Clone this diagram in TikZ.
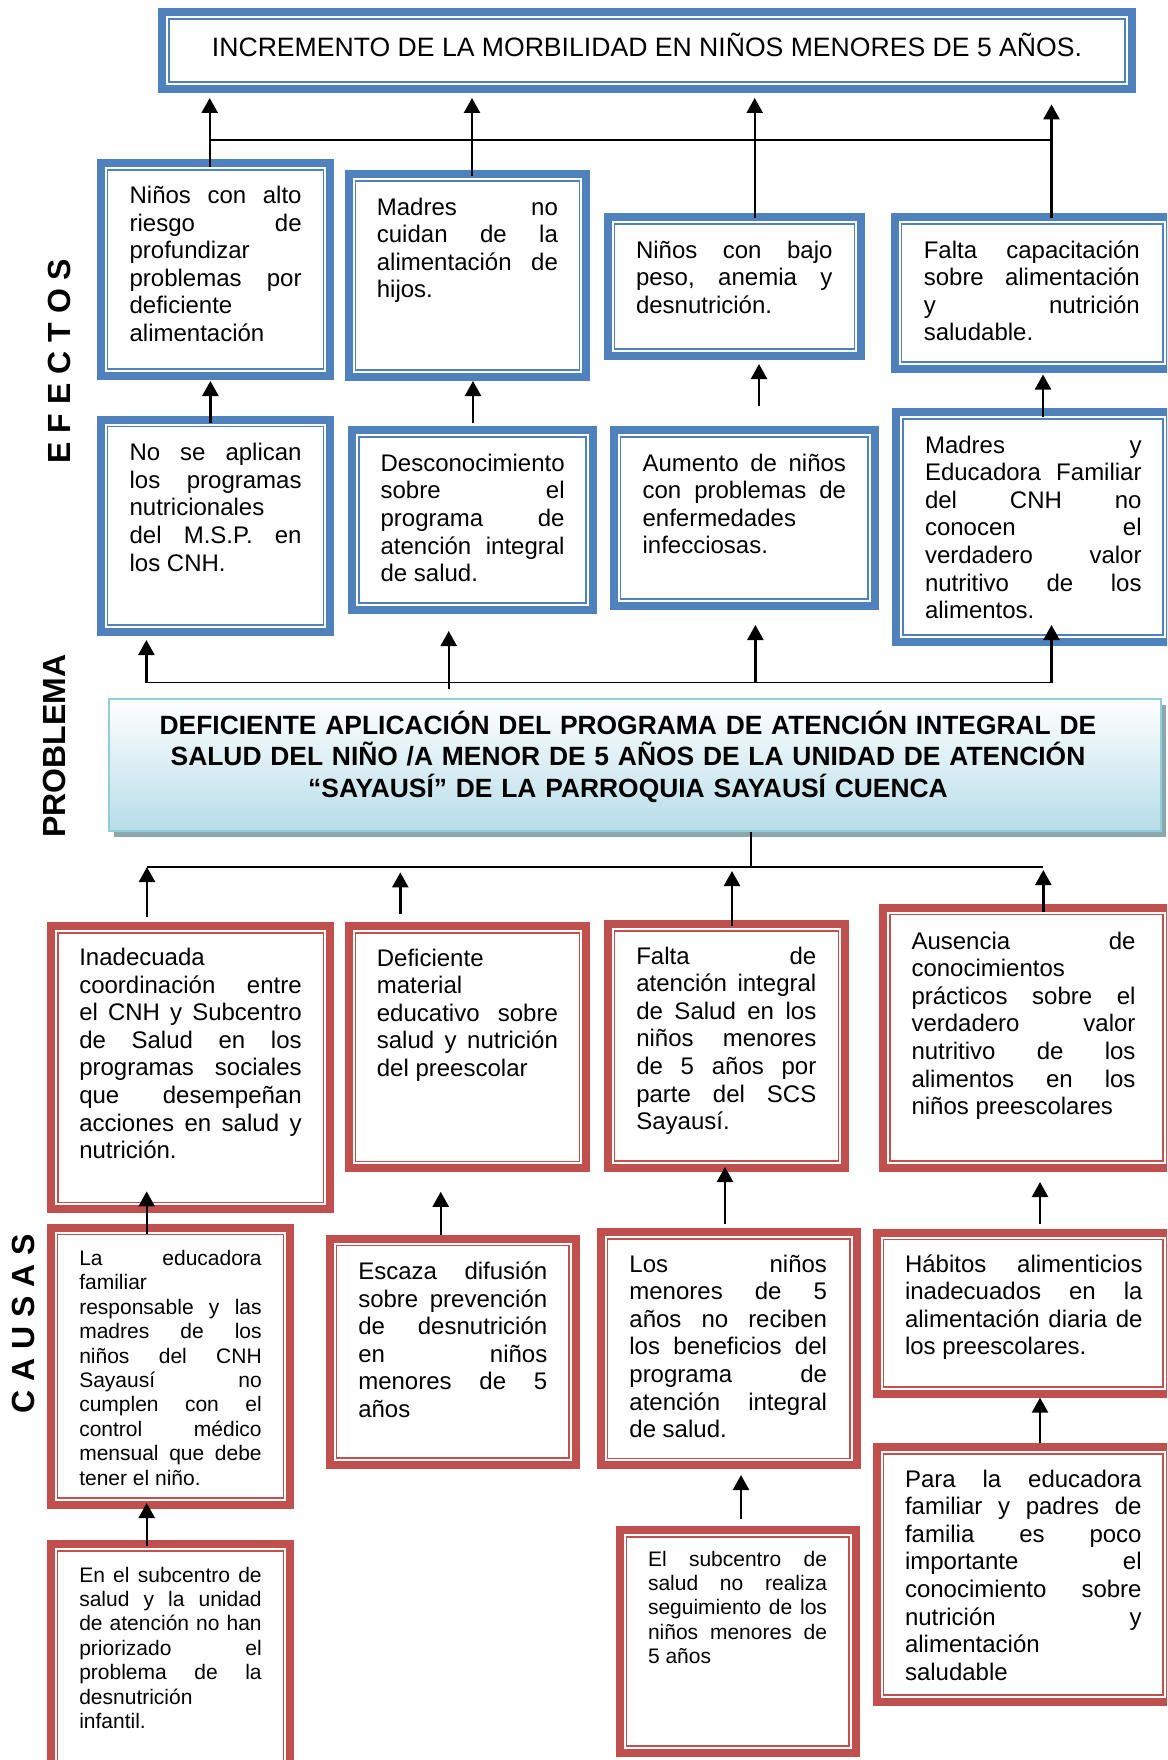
\documentclass[tikz,border=0pt]{standalone}
\usepackage{fontspec}
\setmainfont{Liberation Sans}
\usetikzlibrary{arrows.meta,shadows}
\definecolor{azul}{RGB}{79,129,189}
\definecolor{rojo}{RGB}{192,80,77}
\definecolor{celeste}{RGB}{183,221,232}
\definecolor{bordeceleste}{RGB}{146,205,220}
\definecolor{sombra}{RGB}{139,168,175}
\hyphenpenalty=10000 \exhyphenpenalty=10000
\tolerance=10000 \hbadness=10000 \frenchspacing
\tikzset{
  marco/.style={draw=#1, line width=4pt, anchor=north west, inner sep=0pt,
    path picture={\draw[#1, line width=.8pt]
      ([xshift=3.4pt,yshift=-3.4pt]path picture bounding box.north west) rectangle
      ([xshift=-3.4pt,yshift=3.4pt]path picture bounding box.south east);}},
  efecto/.style={marco=azul},
  causa/.style={marco=rojo},
  problema/.style={anchor=north west, draw=bordeceleste, line width=1pt,
    top color=white, bottom color=celeste,
    general shadow={fill=sombra, shadow xshift=2.5pt, shadow yshift=-3pt}},
  texto/.style={anchor=north west, inner sep=0pt, outer sep=0pt, align=justify,
    font=\fontsize{12}{13.8}\selectfont, execute at begin node=\strut},
  chico/.style={texto, font=\fontsize{10.5}{12.2}\selectfont},
  lado/.style={rotate=90, inner sep=0pt, font=\bfseries\fontsize{16}{19}\selectfont},
  flecha/.style={line width=1.2pt, -{Triangle[width=8pt,length=7.5pt]}},
  bus/.style={line width=.85pt}
}
\begin{document}
\begin{tikzpicture}[x=.5pt,y=-.5pt]
\useasboundingbox (0,0) rectangle (1167,1760);
\clip (0,0) rectangle (1167,1760);
%titulos laterales
\node[lado] (efectos) at (59,361) {E F E C T O S};
\node[lado] (problemalado) at (54,746) {PROBLEMA};
\node[lado] (causas) at (23.3,1324) {C A U S A S};
%efecto final
\node[efecto, minimum width=484.85pt, minimum height=38.3pt] (morb) at (158.3,8.4) {};
\node[anchor=base, inner sep=0pt, font=\fontsize{13.3}{16}\selectfont] (morbt) at (647,57) {INCREMENTO DE LA MORBILIDAD EN NIÑOS MENORES DE 5 AÑOS.};
%efectos fila superior
\node[efecto, minimum width=114.85pt, minimum height=106.3pt] (e1) at (96.7,159) {};
\node[texto, text width=86pt] (e1t) at (129.6,184.2) {Niños con alto \linebreak riesgo de \linebreak profundizar \linebreak problemas por \linebreak deficiente \linebreak alimentación};
\node[efecto, minimum width=118.95pt, minimum height=101.25pt] (e2) at (344.5,170.5) {};
\node[texto, text width=90.5pt] (e2t) at (376.9,195.7) {Madres no \linebreak cuidan de la \linebreak alimentación de \linebreak hijos.};
\node[efecto, minimum width=126.9pt, minimum height=69.3pt] (e3) at (603.5,213.4) {};
\node[texto, text width=98.25pt] (e3t) at (636,238.7) {Niños con bajo \linebreak peso, anemia y \linebreak desnutrición.};
\node[efecto, minimum width=137.7pt, minimum height=75.55pt] (e4) at (890.6,213.4) {};
\node[texto, text width=108pt] (e4t) at (923.8,238.7) {Falta capacitación \linebreak sobre alimentación \linebreak y nutrición \linebreak saludable.};
%efectos fila inferior
\node[efecto, minimum width=114.85pt, minimum height=105.9pt] (f1) at (96.7,415.8) {};
\node[texto, text width=86pt] (f1t) at (129.6,441.4) {No se aplican \linebreak los programas \linebreak nutricionales \linebreak del M.S.P. en \linebreak los CNH.};
\node[efecto, minimum width=120.4pt, minimum height=89.65pt] (f2) at (348.2,426.4) {};
\node[texto, text width=92pt] (f2t) at (380.6,452) {Desconocimiento \linebreak sobre el \linebreak programa de \linebreak atención integral \linebreak de salud.};
\node[efecto, minimum width=130.6pt, minimum height=87.55pt] (f3) at (609.8,426.4) {};
\node[texto, text width=101.7pt] (f3t) at (642.6,451.7) {Aumento de niños \linebreak con problemas de \linebreak enfermedades \linebreak infecciosas.};
\node[efecto, minimum width=137pt, minimum height=114.85pt] (f4) at (892,408.3) {};
\node[texto, text width=108.3pt] (f4t) at (925,433.7) {Madres y \linebreak Educadora Familiar \linebreak del CNH no \linebreak conocen el \linebreak verdadero valor \linebreak nutritivo de los \linebreak alimentos.};
%problema central
\node[problema, minimum width=526pt, minimum height=66pt] (prob) at (108,698) {};
\node[anchor=north, inner sep=0pt, align=center, text width=520pt, font=\bfseries\fontsize{13.2}{15.6}\selectfont, execute at begin node={\rule{0pt}{12.5pt}}] (probt) at (628,709.3) {DEFICIENTE APLICACIÓN DEL PROGRAMA DE ATENCIÓN INTEGRAL DE\\SALUD DEL NIÑO /A MENOR DE 5 AÑOS DE LA UNIDAD DE ATENCIÓN\\“SAYAUSÍ” DE LA PARROQUIA SAYAUSÍ CUENCA};
%causas primer nivel
\node[causa, minimum width=139.55pt, minimum height=141.5pt] (c1) at (47.3,922.4) {};
\node[texto, text width=111.2pt] (c1t) at (79.3,946.2) {Inadecuada \linebreak coordinación entre \linebreak el CNH y Subcentro \linebreak de Salud en los \linebreak programas sociales \linebreak que desempeñan \linebreak acciones en salud y \linebreak nutrición.};
\node[causa, minimum width=118.95pt, minimum height=120.95pt] (c2) at (344.5,922.4) {};
\node[texto, text width=90.5pt] (c2t) at (376.9,946.7) {Deficiente \linebreak material \linebreak educativo sobre \linebreak salud y nutrición \linebreak del preescolar};
\node[causa, minimum width=118.9pt, minimum height=121.8pt] (c3) at (603.5,920) {};
\node[texto, text width=90pt] (c3t) at (636.3,944.7) {Falta de \linebreak atención integral \linebreak de Salud en los \linebreak niños menores \linebreak de 5 años por \linebreak parte del SCS \linebreak Sayausí.};
\node[causa, minimum width=143.5pt, minimum height=129.9pt] (c4) at (879,903.8) {};
\node[texto, text width=112pt] (c4t) at (911.5,929.7) {Ausencia de \linebreak conocimientos \linebreak prácticos sobre el \linebreak verdadero valor \linebreak nutritivo de los \linebreak alimentos en los \linebreak niños preescolares};
%causas segundo nivel
\node[causa, minimum width=119.8pt, minimum height=138.65pt] (d1) at (46.7,1223.7) {};
\node[chico, text width=91.2pt] (d1t) at (79.3,1248.4) {La educadora \linebreak familiar \linebreak responsable y las \linebreak madres de los \linebreak niños del CNH \linebreak Sayausí no \linebreak cumplen con el \linebreak control médico \linebreak mensual que debe \linebreak tener el niño.};
\node[causa, minimum width=123.15pt, minimum height=113.1pt] (d2) at (325.7,1234.8) {};
\node[texto, text width=94.5pt] (d2t) at (358.3,1260.2) {Escaza difusión \linebreak sobre prevención \linebreak de desnutrición \linebreak en niños \linebreak menores de 5 \linebreak años};
\node[causa, minimum width=128pt, minimum height=116.65pt] (d3) at (596.8,1228) {};
\node[texto, text width=98.8pt] (d3t) at (629.4,1252.7) {Los niños \linebreak menores de 5 \linebreak años no reciben \linebreak los beneficios del \linebreak programa de \linebreak atención integral \linebreak de salud.};
\node[causa, minimum width=146.6pt, minimum height=80.4pt] (d4) at (872.8,1228.8) {};
\node[texto, text width=118.8pt] (d4t) at (905,1252.7) {Hábitos alimenticios \linebreak inadecuados en la \linebreak alimentación diaria de \linebreak los preescolares.};
%causas tercer nivel
\node[causa, minimum width=119.8pt, minimum height=113.5pt] (g1) at (46.7,1540) {};
\node[chico, text width=91.2pt] (g1t) at (79.3,1564.9) {En el subcentro de \linebreak salud y la unidad \linebreak de atención no han \linebreak priorizado el \linebreak problema de la \linebreak desnutrición \linebreak infantil.};
\node[causa, minimum width=118.05pt, minimum height=111.5pt] (g3) at (615.6,1526) {};
\node[chico, text width=89.5pt] (g3t) at (648,1548.9) {El subcentro de \linebreak salud no realiza \linebreak seguimiento de los \linebreak niños menores de \linebreak 5 años};
\node[causa, minimum width=146.6pt, minimum height=127.3pt] (g4) at (872.8,1443.4) {};
\node[texto, text width=118.3pt] (g4t) at (905,1467.7) {Para la educadora \linebreak familiar y padres de \linebreak familia es poco \linebreak importante el \linebreak conocimiento sobre \linebreak nutrición y \linebreak alimentación \linebreak saludable};
%efectos hacia el efecto final
\coordinate (be1) at (209.7,140); \coordinate (be2) at (472,140);
\coordinate (be3) at (754.7,140); \coordinate (be4) at (1051.5,140);
\draw[bus] (be1) -- (be4);
\draw[flecha, shorten <=-3.8pt, shorten >=2.5pt] (e1.north -| be1) -- (morb.south -| be1);
\draw[flecha, shorten <=-3pt, shorten >=2.5pt] (e2.north -| be2) -- (morb.south -| be2);
\draw[flecha, shorten <=-2.2pt, shorten >=2.5pt] (e3.north -| be3) -- (morb.south -| be3);
\draw[flecha, shorten <=-2.2pt, shorten >=5.7pt] (e4.north -| be4) -- (morb.south -| be4);
%fila inferior hacia fila superior
\draw[flecha, shorten <=-3.6pt, shorten >=.7pt] (f1.north -| 210.4,0) -- (e1.south -| 210.4,0);
\draw[flecha, shorten <=1.7pt] (f2.north -| 473,0) -- (e2.south -| 473,0);
\draw[flecha, shorten <=10.2pt, shorten >=2pt] (f3.north -| 759,0) -- (e3.south -| 759,0);
\draw[flecha, shorten <=-4.2pt, shorten >=1pt] (f4.north -| 1043,0) -- (e4.south -| 1043,0);
%problema hacia efectos
\coordinate (bp1) at (146.4,682.5); \coordinate (bp2) at (448.7,682.5);
\coordinate (bp3) at (755.4,682.5); \coordinate (bp4) at (1051.5,682.5);
\draw[bus] (bp1) -- (bp4);
\draw[flecha, shorten >=2.2pt] (bp1) -- (f1.south -| bp1);
\draw[flecha, shorten <=-3pt, shorten >=8.65pt] (bp2) -- (f2.south -| bp2);
\draw[flecha, shorten >=7.75pt] (bp3) -- (f3.south -| bp3);
\draw[flecha, shorten >=-10.5pt] (bp4) -- (f4.south -| bp4);
%causas hacia problema
\coordinate (bc0) at (751.3,867); \coordinate (bc1) at (147,867);
\coordinate (bc2) at (400.3,867); \coordinate (bc3) at (732,867);
\coordinate (bc4) at (1043.3,867);
\draw[bus] (prob.south -| bc0) -- (bc0);
\draw[bus] (bc1) -- (bc4);
\draw[flecha, shorten <=2.7pt] (c1.north -| bc1) -- (bc1);
\draw[flecha, shorten <=4.2pt, shorten >=2.7pt] (c2.north -| bc2) -- (bc2);
\draw[flecha, shorten <=-3pt, shorten >=2pt] (c3.north -| bc3) -- (bc3);
\draw[flecha, shorten <=-4pt, shorten >=1.5pt] (c4.north -| bc4) -- (bc4);
%causas segundo nivel hacia primer nivel
\draw[flecha, shorten <=-5pt, shorten >=-11pt] (d1.north -| 146.7,0) -- (c1.south -| 146.7,0);
\draw[flecha, shorten >=9.75pt] (d2.north -| 440.7,0) -- (c2.south -| 440.7,0);
\draw[flecha, shorten <=2.1pt, shorten >=-2.3pt] (d3.north -| 725,0) -- (c3.south -| 725,0);
\draw[flecha, shorten <=2.4pt, shorten >=5.2pt] (d4.north -| 1040,0) -- (c4.south -| 1040,0);
%causas tercer nivel hacia segundo nivel
\draw[flecha, shorten <=-3pt, shorten >=-3pt] (g1.north -| 146.7,0) -- (d1.south -| 146.7,0);
\draw[flecha, shorten <=3.7pt, shorten >=2.85pt] (g3.north -| 741,0) -- (d3.south -| 741,0);
\draw[flecha] (g4.north -| 1040,0) -- (d4.south -| 1040,0);
\end{tikzpicture}
\end{document}
